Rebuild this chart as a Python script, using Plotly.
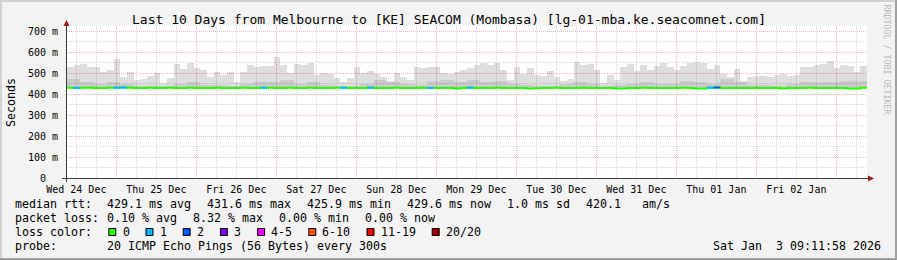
import plotly.graph_objects as go
import pandas as pd

# ---------------- data ----------------
TITLE = "Last 10 Days from Melbourne to [KE] SEACOM (Mombasa) [lg-01-mba.ke.seacomnet.com]"
START = "2025-12-24 09:11:58"
END = "2026-01-03 09:11:58"

# 2-hour bins: top of the smoke (ms)
smoke_max = [
    527, 538, 543, 527, 530, 505, 514, 567, 482, 505, 467, 470, 486, 501, 454, 475, 543, 517, 546, 522, 514, 482, 505, 490, 505, 459, 503, 538, 530, 533,
    533, 575, 538, 498, 543, 538, 546, 490, 501, 495, 475, 459, 475, 530, 501, 511, 495, 482, 463, 498, 482, 467, 530, 522, 530, 527, 501, 495, 505, 514,
    522, 538, 546, 538, 546, 514, 467, 530, 495, 522, 492, 486, 511, 482, 463, 470, 554, 540, 543, 514, 454, 490, 467, 530, 543, 511, 540, 514, 533, 549,
    530, 514, 533, 546, 554, 549, 517, 538, 495, 479, 517, 463, 482, 486, 486, 482, 490, 495, 486, 490, 527, 530, 538, 543, 559, 522, 538, 535, 505, 533]

# 2-hour bins: median rtt (ms)
median_rtt = [
    430, 429, 430, 430, 429, 429, 430, 430, 431, 430, 429, 429, 430, 429, 429, 430, 429, 429, 430, 429, 429, 429, 430, 429, 429, 429, 430, 429, 429, 430,
    430, 429, 429, 430, 429, 429, 430, 429, 429, 429, 430, 430, 429, 429, 429, 430, 429, 429, 429, 430, 429, 429, 429, 430, 429, 429, 429, 429, 426, 429,
    430, 429, 429, 429, 430, 429, 429, 429, 429, 426, 427, 429, 429, 430, 429, 429, 429, 430, 429, 429, 429, 429, 426, 426, 429, 429, 430, 429, 429, 429,
    429, 429, 430, 429, 426, 426, 430, 431, 429, 429, 429, 429, 429, 429, 429, 429, 429, 426, 429, 429, 429, 430, 429, 429, 429, 429, 429, 426, 426, 430]

# 2-hour bins: lost pings (of 20)
lost_pings = [
    0, 1, 0, 0, 0, 0, 0, 1, 1, 0, 0, 0, 0, 0, 0, 0, 0, 0, 0, 0, 0, 0, 0, 0, 0, 0, 0, 0, 0, 1,
    0, 0, 0, 0, 0, 0, 0, 0, 0, 0, 0, 1, 0, 0, 0, 1, 0, 0, 0, 0, 0, 0, 0, 0, 1, 0, 0, 0, 0, 0,
    1, 0, 0, 0, 0, 0, 0, 0, 0, 0, 0, 0, 0, 0, 0, 0, 0, 0, 0, 0, 0, 0, 0, 0, 0, 0, 0, 0, 0, 0,
    0, 0, 0, 0, 0, 0, 1, 2, 0, 0, 0, 0, 0, 0, 0, 0, 0, 0, 0, 0, 0, 0, 0, 0, 0, 0, 0, 0, 0, 0]

# 4-hour bins: top of the denser inner smoke (ms)
smoke_inner = [
    470, 455, 450, 455, 450, 440, 440, 440, 450, 455, 445, 445, 440, 450, 455,
    455, 465, 450, 455, 445, 440, 440, 450, 465, 455, 450, 445, 460, 465, 455,
    465, 455, 460, 450, 445, 440, 440, 450, 455, 450, 440, 445, 450, 455, 450,
    450, 460, 455, 450, 470, 455, 445, 445, 440, 450, 455, 455, 455, 460, 460]

day_labels = ["Wed 24 Dec", "Thu 25 Dec", "Fri 26 Dec", "Sat 27 Dec", "Sun 28 Dec",
              "Mon 29 Dec", "Tue 30 Dec", "Wed 31 Dec", "Thu 01 Jan", "Fri 02 Jan"]
day_noons = ["2025-12-24 12:00", "2025-12-25 12:00", "2025-12-26 12:00", "2025-12-27 12:00",
             "2025-12-28 12:00", "2025-12-29 12:00", "2025-12-30 12:00", "2025-12-31 12:00",
             "2026-01-01 12:00", "2026-01-02 12:00"]
midnights = ["2025-12-25", "2025-12-26", "2025-12-27", "2025-12-28", "2025-12-29",
             "2025-12-30", "2025-12-31", "2026-01-01", "2026-01-02", "2026-01-03"]
y_tickvals = [0, 100, 200, 300, 400, 500, 600, 700]
y_ticktext = ["0\u00a0\u00a0", "100 m", "200 m", "300 m", "400 m", "500 m", "600 m", "700 m"]

loss_labels = ["0", "1", "2", "3", "4-5", "6-10", "11-19", "20/20"]
loss_colors = ["#26ff00", "#00b8ff", "#0059ff", "#7e00ff", "#ff00ff", "#ff5500", "#ff0000", "#a00000"]

rtt_items = ["429.1 ms avg", "431.6 ms max", "425.9 ms min", "429.6 ms now", "1.0 ms sd", "420.1   am/s"]
loss_items = ["0.10 % avg", "8.32 % max", "0.00 % min", "0.00 % now"]
probe_text = "20 ICMP Echo Pings (56 Bytes) every 300s"
stamp_text = "Sat Jan  3 09:11:58 2026"
watermark = "RRDTOOL / TOBI OETIKER"

# ---------------- geometry / style ----------------
W, H = 897, 260
L, R, T, B = 67, 867, 26, 178
MONO = "DejaVu Sans Mono"
MGRID = "#ebb6b6"
GRID = "#d8d8d8"
LEG = 11.63


def px(x):
    return (x - L) / (R - L)


def py(y):
    return (B - y) / (B - T)


def nb(s):
    return s.replace(" ", "\u00a0")


def loss_index(n):
    if n <= 3:
        return n
    if n <= 5:
        return 4
    if n <= 10:
        return 5
    if n <= 19:
        return 6
    return 7


edges = pd.date_range(START, periods=len(smoke_max) + 1, freq="2h")
centers = edges[:-1] + pd.Timedelta(hours=1)
edges4 = pd.date_range(START, periods=len(smoke_inner) + 1, freq="4h")
centers4 = edges4[:-1] + pd.Timedelta(hours=2)

fig = go.Figure()

# light smoke
fig.add_trace(go.Bar(
    x=centers, y=[m - md for m, md in zip(smoke_max, median_rtt)], base=median_rtt,
    width=2 * 3600 * 1000, marker=dict(color="rgba(0,0,0,0.13)", line=dict(width=0)),
    hoverinfo="skip"))
# inner smoke
fig.add_trace(go.Bar(
    x=centers4, y=[v - median_rtt[2 * i] for i, v in enumerate(smoke_inner)],
    base=[median_rtt[2 * i] for i in range(len(smoke_inner))],
    width=4 * 3600 * 1000, marker=dict(color="rgba(0,0,0,0.09)", line=dict(width=0)),
    hoverinfo="skip"))

# median line (green = no loss)
fig.add_trace(go.Scatter(
    x=list(edges), y=median_rtt + [median_rtt[-1]], mode="lines",
    line=dict(color=loss_colors[0], width=2, shape="hv"), hoverinfo="skip"))

# median segments coloured by loss
for k in range(1, len(loss_colors)):
    xs, ys = [], []
    for i, n in enumerate(lost_pings):
        if n > 0 and loss_index(n) == k:
            xs += [edges[i], edges[i + 1], None]
            ys += [median_rtt[i], median_rtt[i], None]
    if xs:
        fig.add_trace(go.Scatter(x=xs, y=ys, mode="lines",
                                 line=dict(color=loss_colors[k], width=2),
                                 hoverinfo="skip"))

# dummy trace so the label axis renders
fig.add_trace(go.Scatter(x=[START, END], y=[0, 0], xaxis="x2", mode="lines",
                         line=dict(width=0), opacity=0, hoverinfo="skip"))

fig.update_layout(
    width=W, height=H, autosize=False,
    margin=dict(l=L, r=W - R, t=T, b=H - B, pad=0),
    paper_bgcolor="#f3f3f3", plot_bgcolor="#ffffff",
    showlegend=False, barmode="overlay", bargap=0,
    xaxis=dict(type="date", range=[START, END], tickmode="array", tickvals=midnights,
               showticklabels=False, ticks="", showgrid=True, gridcolor=MGRID,
               griddash="1px,1px", gridwidth=1, zeroline=False, showline=False,
               minor=dict(tick0="2025-12-25", dtick=6 * 3600 * 1000, showgrid=True,
                          gridcolor=GRID, griddash="1px,1px", gridwidth=1, ticks=""),
               fixedrange=True),
    xaxis2=dict(type="date", range=[START, END], overlaying="x", anchor="y", side="bottom",
                tickmode="array", tickvals=day_noons, ticktext=day_labels,
                showgrid=False, zeroline=False, showline=False,
                ticks="outside", ticklen=2, tickcolor="rgba(0,0,0,0)",
                tickfont=dict(family=MONO, size=10, color="#000"), fixedrange=True),
    yaxis=dict(range=[0, 724], tickmode="array", tickvals=y_tickvals, ticktext=y_ticktext,
               showgrid=True, gridcolor=MGRID, griddash="1px,1px", gridwidth=1,
               minor=dict(tick0=50, dtick=100, showgrid=True, gridcolor=GRID,
                          griddash="1px,1px", gridwidth=1, ticks=""),
               zeroline=False, showline=False, ticks="outside", ticklen=6,
               tickcolor="rgba(0,0,0,0)",
               tickfont=dict(family=MONO, size=10, color="#000"), fixedrange=True),
)

shapes = []
# frame
shapes.append(dict(type="rect", xref="paper", yref="paper", x0=px(0), x1=px(W), y0=py(0), y1=py(2),
                   fillcolor="#d2d2d2", line=dict(width=0), layer="above"))
shapes.append(dict(type="rect", xref="paper", yref="paper", x0=px(0), x1=px(2), y0=py(0), y1=py(H),
                   fillcolor="#d2d2d2", line=dict(width=0), layer="above"))
shapes.append(dict(type="rect", xref="paper", yref="paper", x0=px(0), x1=px(W), y0=py(H - 2), y1=py(H),
                   fillcolor="#a0a0a0", line=dict(width=0), layer="above"))
shapes.append(dict(type="rect", xref="paper", yref="paper", x0=px(W - 2), x1=px(W), y0=py(0), y1=py(H),
                   fillcolor="#a0a0a0", line=dict(width=0), layer="above"))
# axes
shapes.append(dict(type="line", xref="paper", yref="paper", x0=px(62), x1=px(869), y0=py(178.5), y1=py(178.5),
                   line=dict(color="#3a3a3a", width=1), layer="above"))
shapes.append(dict(type="line", xref="paper", yref="paper", x0=px(66.5), x1=px(66.5), y0=py(182), y1=py(25),
                   line=dict(color="#3a3a3a", width=1), layer="above"))
# arrows
shapes.append(dict(type="path", xref="paper", yref="paper",
                   path=f"M {px(868)} {py(175.5)} L {px(874)} {py(178.5)} L {px(868)} {py(181.5)} Z",
                   fillcolor="#a01818", line=dict(width=0), layer="above"))
shapes.append(dict(type="path", xref="paper", yref="paper",
                   path=f"M {px(63.5)} {py(26)} L {px(66.5)} {py(20)} L {px(69.5)} {py(26)} Z",
                   fillcolor="#a01818", line=dict(width=0), layer="above"))

annotations = []


def text(x, y, s, size=LEG, xanchor="left", color="#000", angle=0):
    annotations.append(dict(x=px(x), y=py(y), xref="paper", yref="paper", text=nb(s),
                            showarrow=False, xanchor=xanchor, yanchor="middle",
                            font=dict(family=MONO, size=size, color=color),
                            textangle=angle, borderpad=0, borderwidth=0))


text(448.5, 19, TITLE, size=13, xanchor="center")
text(11, 102, "Seconds", angle=-90, xanchor="center")
text(886.5, 59, watermark, size=8.3, color="#b8b8b8", angle=90, xanchor="center")

CH = 7.0
GAP = 16.0
text(15, 204, "median rtt:")
x = 106.5
for s in rtt_items:
    text(x, 204, s)
    x += CH * len(s) + GAP

text(15, 218, "packet loss:")
x = 106.5
for s in loss_items:
    text(x, 218, s)
    x += CH * len(s) + GAP

text(15, 232, "loss color:")
bx = 108.3
for lab, col in zip(loss_labels, loss_colors):
    shapes.append(dict(type="rect", xref="paper", yref="paper",
                       x0=px(bx + 0.5), x1=px(bx + 7.5), y0=py(235.5), y1=py(228.5),
                       fillcolor=col, line=dict(color="#000", width=1), layer="above"))
    tx = bx + 14.2
    text(tx, 232, lab)
    bx = tx + CH * len(lab) + GAP

text(15, 246, "probe:")
text(106.5, 246, probe_text)
text(880.5, 246, stamp_text, xanchor="right")

fig.update_layout(shapes=shapes, annotations=annotations)

fig.write_html("out.html", config={"displayModeBar": False, "staticPlot": True})
